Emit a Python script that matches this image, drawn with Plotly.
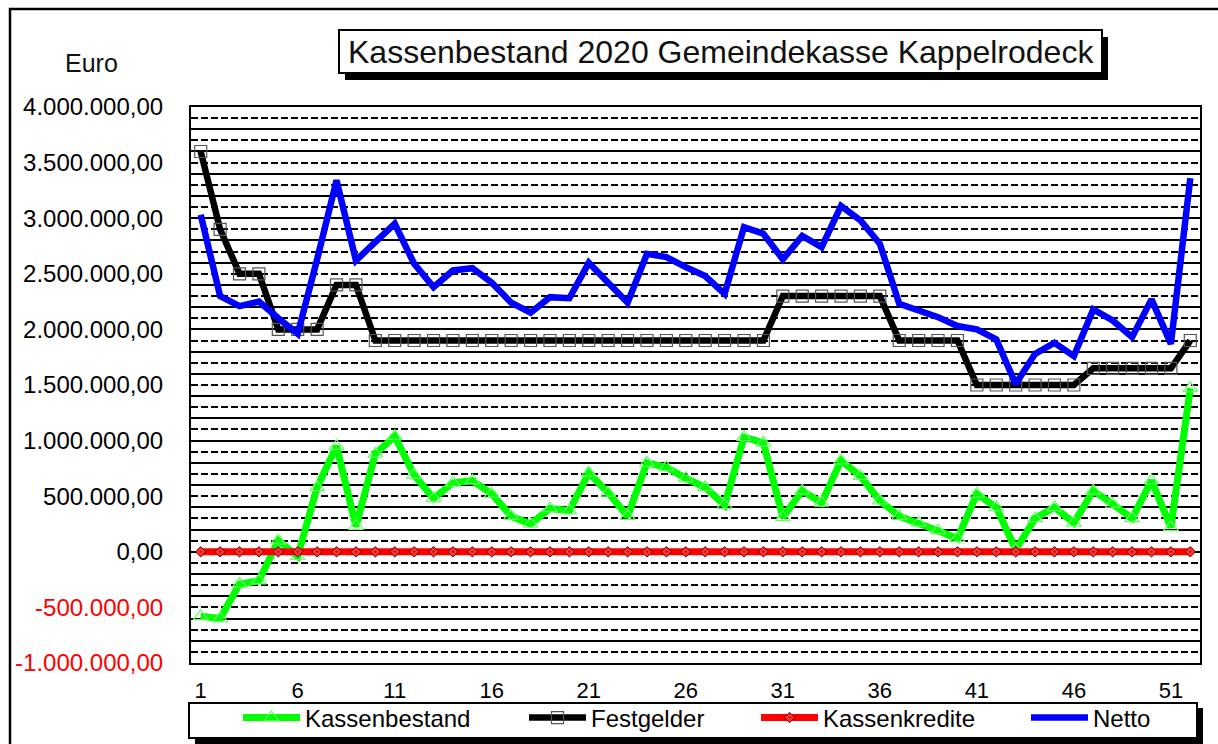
import plotly.graph_objects as go

# ---------------- data ----------------
weeks = list(range(1, 53))
x_tick_vals = [1, 6, 11, 16, 21, 26, 31, 36, 41, 46, 51]

kassenbestand = [-580000, -600000, -290000, -260000, 100000, -40000, 580000, 950000, 230000, 880000,
                 1040000, 690000, 480000, 620000, 640000, 520000, 320000, 250000, 390000, 370000,
                 710000, 530000, 320000, 800000, 760000, 660000, 580000, 420000, 1030000, 980000,
                 310000, 550000, 440000, 820000, 680000, 460000, 320000, 260000, 190000, 120000,
                 520000, 400000, 20000, 300000, 400000, 260000, 550000, 430000, 300000, 640000,
                 220000, 1470000]
festgelder = [3600000, 2900000, 2500000, 2500000, 2000000, 2000000, 2000000, 2400000, 2400000, 1900000,
              1900000, 1900000, 1900000, 1900000, 1900000, 1900000, 1900000, 1900000, 1900000, 1900000,
              1900000, 1900000, 1900000, 1900000, 1900000, 1900000, 1900000, 1900000, 1900000, 1900000,
              2300000, 2300000, 2300000, 2300000, 2300000, 2300000, 1900000, 1900000, 1900000, 1900000,
              1500000, 1500000, 1500000, 1500000, 1500000, 1500000, 1650000, 1650000, 1650000, 1650000,
              1650000, 1900000]
kassenkredite = [0] * 52
netto = [3030000, 2300000, 2210000, 2250000, 2100000, 1960000, 2630000, 3340000, 2620000, 2780000,
         2950000, 2590000, 2380000, 2530000, 2550000, 2420000, 2240000, 2150000, 2290000, 2280000,
         2600000, 2420000, 2240000, 2680000, 2650000, 2560000, 2480000, 2320000, 2920000, 2860000,
         2630000, 2840000, 2740000, 3110000, 2980000, 2770000, 2230000, 2170000, 2110000, 2030000,
         2000000, 1910000, 1510000, 1780000, 1880000, 1760000, 2180000, 2080000, 1930000, 2270000,
         1870000, 3360000]

y_tick_vals = [4000000, 3500000, 3000000, 2500000, 2000000, 1500000, 1000000, 500000, 0, -500000, -1000000]
y_tick_text = ["4.000.000,00", "3.500.000,00", "3.000.000,00", "2.500.000,00", "2.000.000,00",
               "1.500.000,00", "1.000.000,00", "500.000,00", "0,00",
               '<span style="color:#ff0000">-500.000,00</span>',
               '<span style="color:#ff0000">-1.000.000,00</span>']

title_text = "Kassenbestand 2020 Gemeindekasse Kappelrodeck"
y_unit = "Euro"

# ---------------- geometry helpers (pixel -> paper) ----------------
W, H = 1218, 744
L, R, T, B = 191, 1200, 107, 663
PW, PH = R - L, B - T


def px(x):
    return (x - L) / PW


def py(y):
    return (B - y) / PH


FONT = "Liberation Sans, Arial, sans-serif"

fig = go.Figure()

fig.add_trace(go.Scatter(
    x=weeks, y=kassenbestand, name="Kassenbestand", mode="lines+markers",
    line=dict(color="#00ff00", width=7),
    marker=dict(symbol="triangle-up-open", size=13, color="#66ff66", line=dict(width=1.2)),
    legend="legend"))
fig.add_trace(go.Scatter(
    x=weeks, y=festgelder, name="Festgelder", mode="lines+markers",
    line=dict(color="#000000", width=6.5),
    marker=dict(symbol="square-open", size=12, color="#555555", line=dict(width=1.2)),
    legend="legend2"))
fig.add_trace(go.Scatter(
    x=weeks, y=kassenkredite, name="Kassenkredite", mode="lines+markers",
    line=dict(color="#ff0000", width=7),
    marker=dict(symbol="diamond-dot", size=8, color="#ff3030", line=dict(width=1, color="#600000")),
    legend="legend3"))
fig.add_trace(go.Scatter(
    x=weeks, y=netto, name="Netto", mode="lines",
    line=dict(color="#0000ff", width=6.5),
    legend="legend4"))
# helper trace so the overlay grid axis exists
fig.add_trace(go.Scatter(x=[None], y=[None], yaxis="y2", showlegend=False, hoverinfo="skip"))

yr = [-1000000, 4000000]
fig.update_layout(
    width=W, height=H,
    margin=dict(l=L, r=W - R, t=T, b=H - B, autoexpand=False),
    paper_bgcolor="white", plot_bgcolor="white",
    font=dict(family=FONT, color="#000000"),
    hovermode=False,
    xaxis=dict(range=[0.5, 52.5], tickmode="array", tickvals=x_tick_vals,
               ticktext=[str(v) for v in x_tick_vals], automargin=False,
               tickfont=dict(size=22, family=FONT), showgrid=False, zeroline=False,
               showline=True, linecolor="black", linewidth=2, mirror=True,
               ticks="", ticklabelstandoff=7),
    yaxis=dict(range=yr, tickmode="array", tickvals=y_tick_vals, ticktext=y_tick_text,
               tickfont=dict(size=24, family=FONT), showgrid=False, zeroline=False,
               showline=True, linecolor="black", linewidth=2, mirror=True, automargin=False,
               ticks="", ticklabelstandoff=21,
               minor=dict(dtick=100000, tick0=0, showgrid=True, gridcolor="black",
                          gridwidth=1.5, griddash="7px,3px")),
    yaxis2=dict(range=yr, overlaying="y", side="left", showticklabels=False, automargin=False,
                tickmode="linear", dtick=200000, tick0=0, showgrid=True,
                gridcolor="black", gridwidth=1.5, zeroline=False, showline=False, ticks=""),
)

leg_common = dict(orientation="h", yanchor="middle", y=py(718), xanchor="left",
                  bgcolor="rgba(0,0,0,0)", borderwidth=0, itemwidth=57,
                  font=dict(size=24, family=FONT, color="#000000"))
sym_starts = [245, 531, 763, 1033]
fig.update_layout(
    legend=dict(**leg_common, x=px(sym_starts[0] - 7)),
    legend2=dict(**leg_common, x=px(sym_starts[1] - 7)),
    legend3=dict(**leg_common, x=px(sym_starts[2] - 7)),
    legend4=dict(**leg_common, x=px(sym_starts[3] - 7)),
)

shapes = []
# outer frame
shapes.append(dict(type="rect", xref="paper", yref="paper", x0=px(10), x1=px(1224), y0=py(9), y1=py(752),
                   line=dict(color="black", width=2.5), fillcolor="rgba(0,0,0,0)", layer="below"))
# title box shadow + box
shapes.append(dict(type="rect", xref="paper", yref="paper", x0=px(345), x1=px(1108), y0=py(37), y1=py(80),
                   line=dict(width=0), fillcolor="black", layer="above"))
shapes.append(dict(type="rect", xref="paper", yref="paper", x0=px(339), x1=px(1102), y0=py(30), y1=py(73),
                   line=dict(color="black", width=2), fillcolor="white", layer="above"))
# legend box shadow + box
shapes.append(dict(type="rect", xref="paper", yref="paper", x0=px(195), x1=px(1203), y0=py(708), y1=py(745),
                   line=dict(width=0), fillcolor="black", layer="below"))
shapes.append(dict(type="rect", xref="paper", yref="paper", x0=px(189), x1=px(1197), y0=py(703), y1=py(738),
                   line=dict(color="black", width=2), fillcolor="white", layer="below"))
fig.update_layout(shapes=shapes)

fig.add_annotation(text=title_text, xref="paper", yref="paper", x=px(346), y=py(52),
                   xanchor="left", yanchor="middle", showarrow=False,
                   font=dict(size=32, family=FONT, color="#111111"))
fig.add_annotation(text=y_unit, xref="paper", yref="paper", x=px(91), y=py(63),
                   xanchor="center", yanchor="middle", showarrow=False,
                   font=dict(size=25, family=FONT, color="#111111"))

fig.write_html("out.html", config={"displayModeBar": False},
               post_script="document.body.style.margin='0';document.body.style.overflow='hidden';")
